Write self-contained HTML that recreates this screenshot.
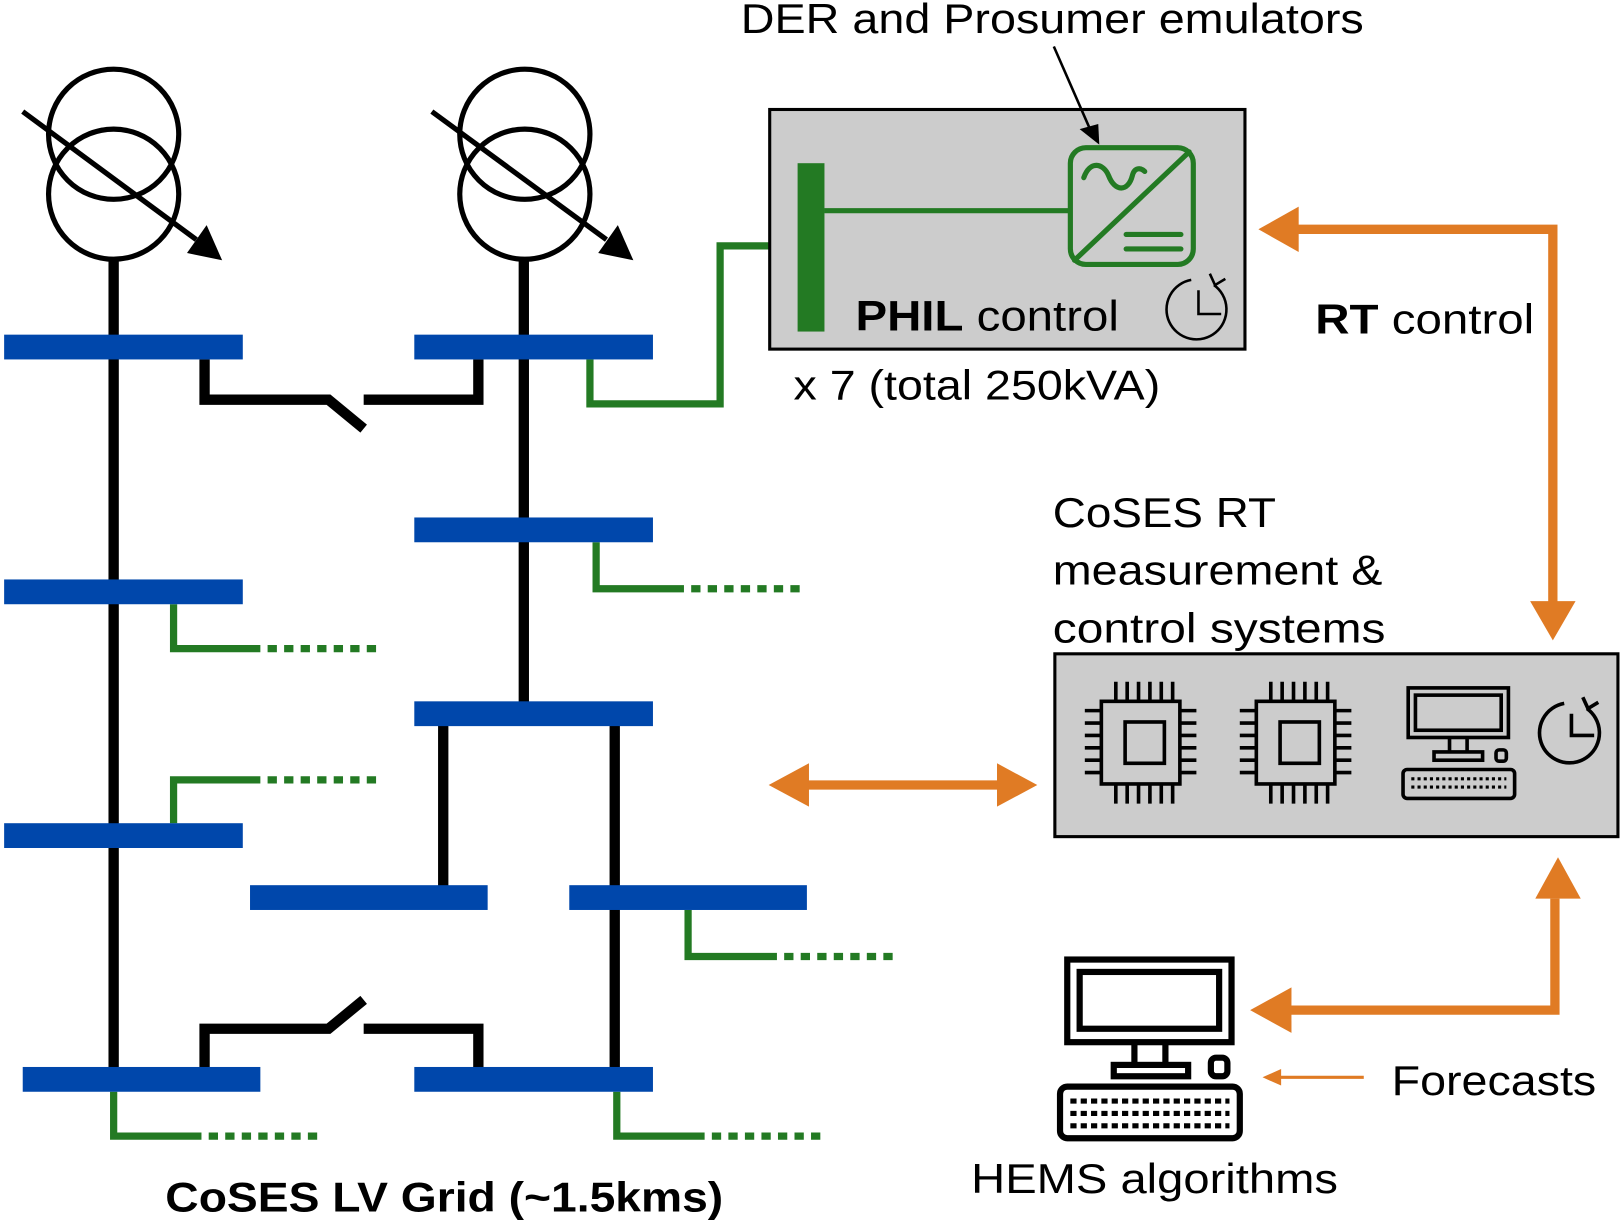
<!DOCTYPE html>
<html><head><meta charset="utf-8"><style>
html,body{margin:0;padding:0;background:#fff;}
svg{display:block;}
text{font-family:"Liberation Sans",sans-serif;fill:#000;}
</style></head><body>
<svg width="1620" height="1225" viewBox="0 0 1568 1186" preserveAspectRatio="none" xmlns="http://www.w3.org/2000/svg">
<!-- transformers -->
<g fill="none" stroke="#000" stroke-width="5">
<circle cx="110" cy="130" r="63"/><circle cx="110" cy="188" r="63"/>
<circle cx="508" cy="130" r="63"/><circle cx="508" cy="188" r="63"/>
<line x1="22" y1="108" x2="190" y2="232"/>
<line x1="418" y1="108" x2="587" y2="232"/>
</g>
<path d="M215,252 L181,245 L200,218z" fill="#000"/>
<path d="M613,252 L579,245 L598,218z" fill="#000"/>
<!-- black lines -->
<g fill="none" stroke="#000" stroke-width="10">
<line x1="110" y1="250" x2="110" y2="1040"/>
<line x1="507" y1="250" x2="507" y2="690"/>
<line x1="429" y1="700" x2="429" y2="860"/>
<line x1="595" y1="700" x2="595" y2="1040"/>
<path d="M198,348 V387 H318 L352,415"/>
<path d="M352,387 H463 V348"/>
<path d="M198,1033 V996 H318 L352,968"/>
<path d="M352,996 H463 V1033"/>
</g>
<!-- green feeders -->
<g fill="none" stroke="#237a23" stroke-width="7">
<path d="M168,585 V628 H252"/><path d="M168,797 V755 H252"/>
<path d="M110,1057 V1100 H195"/>
<path d="M577,525 V570 H662"/><path d="M666,881 V926 H752"/>
<path d="M597,1057 V1100 H682"/>
<path d="M571,348 V391 H697 V238 H772"/>
</g>
<g fill="none" stroke="#237a23" stroke-width="7" stroke-dasharray="9,7">
<line x1="259" y1="628" x2="368" y2="628"/><line x1="259" y1="755" x2="368" y2="755"/>
<line x1="202" y1="1100" x2="310" y2="1100"/>
<line x1="669" y1="570" x2="777" y2="570"/><line x1="759" y1="926" x2="866" y2="926"/>
<line x1="689" y1="1100" x2="796" y2="1100"/>
</g>
<!-- buses -->
<g fill="#0047AB">
<rect x="4" y="324" width="231" height="24"/><rect x="4" y="561" width="231" height="24"/>
<rect x="4" y="797" width="231" height="24"/><rect x="22" y="1033" width="230" height="24"/>
<rect x="401" y="324" width="231" height="24"/><rect x="401" y="501" width="231" height="24"/>
<rect x="401" y="679" width="231" height="24"/><rect x="242" y="857" width="230" height="24"/>
<rect x="551" y="857" width="230" height="24"/><rect x="401" y="1033" width="231" height="24"/>
</g>
<!-- PHIL box -->
<rect x="745" y="106" width="460" height="232" fill="#cccccc" stroke="#000" stroke-width="3"/>
<rect x="772" y="158" width="26" height="163" fill="#237a23"/>
<line x1="798" y1="204" x2="1035" y2="204" stroke="#237a23" stroke-width="5"/>
<g fill="none" stroke="#237a23" stroke-width="5" stroke-linecap="round">
<rect x="1036" y="143" width="119" height="113" rx="15"/>
<line x1="1040" y1="252" x2="1151" y2="147"/>
<path d="M1049,172 C1055,155 1068,158 1073,170 C1079,186 1092,186 1096,170 C1098,162 1104,162 1108,166"/>
<line x1="1090" y1="227" x2="1143" y2="227"/><line x1="1090" y1="241" x2="1143" y2="241"/>
</g>
<line x1="1020" y1="45" x2="1055" y2="125" stroke="#000" stroke-width="2.5"/>
<path d="M1064,140 L1045,125 L1063,120z" fill="#000"/>
<g fill="none" stroke="#000" stroke-width="2.5">
<path d="M1175,276 A29,29 0 1 1 1153,271"/><path d="M1171,265 L1176,276 L1186,270"/>
<path d="M1160,281 V304 H1182"/>
</g>
<text x="828" y="320" font-size="41" textLength="255" lengthAdjust="spacingAndGlyphs"><tspan font-weight="bold">PHIL</tspan> control</text>
<text x="768" y="387" font-size="40" textLength="355" lengthAdjust="spacingAndGlyphs">x 7 (total 250kVA)</text>
<text x="717" y="32" font-size="40" textLength="603" lengthAdjust="spacingAndGlyphs">DER and Prosumer emulators</text>
<text x="1273" y="323" font-size="40" textLength="212" lengthAdjust="spacingAndGlyphs"><tspan font-weight="bold">RT</tspan> control</text>
<!-- orange arrows -->
<g fill="none" stroke="#E07B24" stroke-width="9">
<path d="M1255,222 H1503 V585"/>
<line x1="782" y1="760" x2="966" y2="760"/>
<path d="M1505,870 V978 H1248"/>
</g>
<g fill="#E07B24">
<path d="M1218,222 L1257,200 L1257,244z"/>
<path d="M1503,620 L1481,582 L1525,582z"/>
<path d="M744,760 L783,739 L783,781z"/>
<path d="M1004,760 L965,739 L965,781z"/>
<path d="M1508,830 L1486,870 L1530,870z"/>
<path d="M1210,978 L1250,956 L1250,1000z"/>
<path d="M1222,1043 L1240,1035 L1240,1051z"/>
</g>
<line x1="1238" y1="1043" x2="1320" y2="1043" stroke="#E07B24" stroke-width="3"/>
<text x="1347" y="1060" font-size="40" textLength="198" lengthAdjust="spacingAndGlyphs">Forecasts</text>
<!-- CoSES box -->
<text x="1019" y="510" font-size="40" textLength="216" lengthAdjust="spacingAndGlyphs">CoSES RT</text>
<text x="1019" y="566" font-size="40" textLength="319" lengthAdjust="spacingAndGlyphs">measurement &amp;</text>
<text x="1019" y="622" font-size="40" textLength="322" lengthAdjust="spacingAndGlyphs">control systems</text>
<rect x="1021" y="633" width="545" height="177" fill="#cccccc" stroke="#000" stroke-width="3"/>
<g fill="none" stroke="#000" stroke-width="3.5">
<g id="chip">
<rect x="1066" y="679" width="76" height="80"/>
<rect x="1089" y="699" width="38" height="40"/>
<path d="M1080,660v19M1091,660v19M1102,660v19M1113,660v19M1124,660v19M1135,660v19"/>
<path d="M1080,759v19M1091,759v19M1102,759v19M1113,759v19M1124,759v19M1135,759v19"/>
<path d="M1050,688h16M1050,700h16M1050,712h16M1050,724h16M1050,736h16M1050,748h16"/>
<path d="M1142,688h16M1142,700h16M1142,712h16M1142,724h16M1142,736h16M1142,748h16"/>
</g>
<use href="#chip" x="150"/>
<rect x="1363" y="666" width="97" height="48"/>
<rect x="1370" y="673" width="83" height="34"/>
<path d="M1403,714v14M1420,714v14"/>
<rect x="1388" y="728" width="47" height="8"/>
<rect x="1448" y="726" width="10" height="11" rx="3"/>
<rect x="1358" y="745" width="108" height="28" rx="4"/>
<path d="M1366,754h92M1366,762h92" stroke-dasharray="3,3" stroke-width="3"/>
<path d="M1536,686 A29,29 0 1 1 1514,681"/><path d="M1532,675 L1537,686 L1547,680"/>
<path d="M1521,691 V712 H1543"/>
</g>
<!-- HEMS computer -->
<g fill="none" stroke="#000" stroke-width="6">
<rect x="1033" y="929" width="159" height="80"/>
<rect x="1045" y="941" width="135" height="55"/>
<path d="M1098,1009v22M1128,1009v22"/>
<rect x="1078" y="1031" width="72" height="11"/>
<rect x="1172" y="1024" width="16" height="18" rx="5"/>
<rect x="1026" y="1052" width="174" height="50" rx="7"/>
<path d="M1036,1066h154M1036,1078h154M1036,1090h154" stroke-dasharray="6,4" stroke-width="5"/>
</g>
<text x="940" y="1155" font-size="40" textLength="355" lengthAdjust="spacingAndGlyphs">HEMS algorithms</text>
<text x="160" y="1173" font-size="40" font-weight="bold" textLength="540" lengthAdjust="spacingAndGlyphs">CoSES LV Grid (~1.5kms)</text>
</svg>
</body></html>
